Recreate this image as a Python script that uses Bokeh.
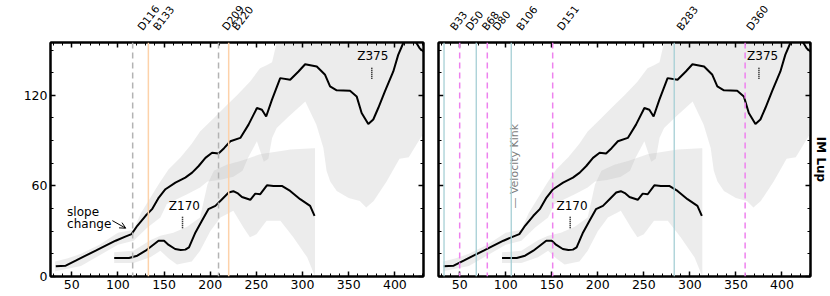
import math
from bokeh.plotting import figure
from bokeh.models import (Range1d, LinearAxis, SingleIntervalTicker,
                          Span, Arrow, OpenHead, CustomLabelingPolicy)
from bokeh.layouts import row, column
from bokeh.embed import file_html
from bokeh.resources import INLINE
from bokeh.core.properties import value

# ---------------- data ----------------
upper_x = [32.7, 43.5, 54.3, 65, 76, 86.7, 97.5, 108, 114.8, 121, 130, 137, 144.3, 151.5,
           162.3, 173, 180.4, 187.5, 194.8, 202, 209, 215, 221.8, 232.6, 241.5, 250.6, 256,
           260.6, 266.8, 275.8, 286.6, 295.6, 302.8, 315.4, 324.4, 329.8, 337, 351.4, 358.6,
           364, 371.2, 376.6, 382, 389.2, 398.3, 403.6, 409, 414, 419, 423, 427, 431]
upper_y = [6.8, 7.2, 10.5, 13.8, 17.1, 20.4, 23.7, 26.4, 28.1, 33.6, 40.2, 44.6, 52.3, 57.8,
           62.2, 65.5, 68.8, 73.2, 78.6, 82, 81.5, 85, 89.6, 91.8, 100.6, 111.6, 110.5,
           106, 117, 131.4, 130.3, 135.8, 140.6, 139.1, 133.6, 125.9, 123.3, 123, 119.3,
           108.3, 101, 104, 111.6, 122.6, 135.8, 146.8, 154.5, 160, 158, 155, 151, 149]

lower_x = [96, 105, 112, 121, 130, 137, 144, 150, 155, 162, 168, 173, 177, 184, 191, 198,
           205.6, 212.8, 220, 225, 230, 234.4, 243.4, 248.8, 254.2, 261.4, 268.5, 277.6,
           286.6, 297.4, 308.2, 313]
lower_y = [12.3, 12.3, 12.3, 13.8, 17.1, 20.4, 23.7, 23.7, 20.9, 18.2, 17.5, 17.8, 19.3,
           29.2, 36.9, 44.6, 46.8, 51.2, 55.6, 56.5, 55, 52.7, 50.8, 54.9, 54.5, 60.4, 60,
           60, 56.7, 51.2, 46.8, 40.2]

# uncertainty band of the upper profile
bandA_top_x = [32, 45, 60, 80, 100, 117, 125, 135, 145, 155, 168, 180, 189, 204, 217, 229,
               243, 254, 261, 267, 272, 280, 432]
bandA_top_y = [10, 12, 15, 21, 29, 31, 42, 52, 62, 71, 79, 88, 96, 105, 113, 120,
               129, 138, 140, 142, 155, 170, 170]
bandA_bot_x = [32, 60, 100, 117, 132, 146, 153, 175, 189, 197, 210, 225, 235, 241, 250.6,
               258, 263, 267, 272, 285, 303, 315, 322.6, 326, 330, 337, 350, 362, 369, 377,
               391, 405, 415, 432]
bandA_bot_y = [3.5, 7, 21, 23.7, 32.5, 39, 48, 54.5, 59, 63, 64, 66, 70, 78.6, 89.6,
               76, 78, 91.8, 98.4, 106, 116, 100.6, 85.2, 70, 63, 56.7, 52, 50, 45.7, 50,
               63, 78, 79, 96]

# uncertainty band of the lower profile
bandB_top_x = [96, 117, 135, 146, 160, 175, 189, 193, 197, 204, 218, 233, 254, 287, 312, 313.5]
bandB_top_y = [16, 17, 24, 27, 29, 33, 39, 50, 61, 70, 74, 76.5, 81, 84.2, 85, 85]
bandB_bot_x = [96, 117, 135, 146, 155, 164, 180, 189, 200, 211, 225, 236, 243, 250, 261,
               276, 290, 305, 313.5]
bandB_bot_y = [9, 9, 12.7, 17, 12, 8, 10, 17, 30, 39, 43.5, 32.5, 26, 28, 37,
               37, 26, 12.7, 0]

left_D = [116, 209]
left_B = [133, 220]
left_marks = [116, 133, 209, 220]
left_mark_labels = ["D116", "B133", "D209", "B220"]

right_D = [50, 80, 151, 360]
right_B = [33, 68, 106, 283]
right_marks = [33, 50, 68, 80, 106, 151, 283, 360]
right_mark_labels = ["B33", "D50", "B68", "D80", "B106", "D151", "B283", "D360"]

FONT = "DejaVu Sans"
STRIP_H = 40
MAIN_H = 256
XMIN, XMAX = 27, 431
YMAX = 155
LABEL_ANGLE = math.radians(52)


def band_poly(tx, ty, bx, by):
    return list(tx) + list(reversed(bx)), list(ty) + list(reversed(by))


def style_axis(ax, labels=True):
    ax.major_tick_in = 5
    ax.major_tick_out = 0
    ax.minor_tick_in = 3
    ax.minor_tick_out = 0
    ax.major_tick_line_width = 1.5
    ax.minor_tick_line_width = 1
    ax.axis_line_width = 2
    ax.axis_line_color = "black"
    ax.major_label_text_font = FONT
    ax.major_label_text_color = "black"
    if labels:
        ax.major_label_text_font_size = "12.5px"
        ax.major_label_standoff = 3
    else:
        ax.major_label_text_font_size = "0px"
        ax.major_label_standoff = 0
        ax.major_label_policy = CustomLabelingPolicy(code="")


def make_panel(width, bl, br, show_ylabels, marks, mark_labels):
    p = figure(width=width, height=MAIN_H, x_range=Range1d(XMIN, XMAX),
               y_range=Range1d(0, YMAX),
               output_backend="svg", toolbar_location=None,
               x_axis_type=None, y_axis_type=None,
               min_border_left=bl, min_border_right=br,
               min_border_top=2, min_border_bottom=20)
    p.outline_line_color = "black"
    p.outline_line_width = 2
    p.background_fill_color = "white"
    p.border_fill_color = "white"

    xb = LinearAxis(ticker=SingleIntervalTicker(interval=50, num_minor_ticks=5))
    style_axis(xb)
    p.add_layout(xb, "below")
    xt = LinearAxis(ticker=SingleIntervalTicker(interval=50, num_minor_ticks=5))
    style_axis(xt, labels=False)
    p.add_layout(xt, "above")

    yl = LinearAxis(ticker=SingleIntervalTicker(interval=60, num_minor_ticks=4))
    style_axis(yl, labels=show_ylabels)
    p.add_layout(yl, "left")
    yr = LinearAxis(ticker=SingleIntervalTicker(interval=60, num_minor_ticks=4))
    style_axis(yr, labels=False)
    p.add_layout(yr, "right")

    # bands
    ax_, ay_ = band_poly(bandA_top_x, bandA_top_y, bandA_bot_x, bandA_bot_y)
    p.patch(ax_, ay_, fill_color="#b4b4b4", fill_alpha=0.25, line_color=None)
    bx_, by_ = band_poly(bandB_top_x, bandB_top_y, bandB_bot_x, bandB_bot_y)
    p.patch(bx_, by_, fill_color="#b4b4b4", fill_alpha=0.25, line_color=None)

    # strip above the frame carrying the rotated marker-line labels;
    # its frame starts 6 px further left, with the x range extended to keep the same scale
    frame_w = width - bl - br
    pad = 6
    s = figure(width=width, height=STRIP_H,
               x_range=Range1d(XMIN - pad * (XMAX - XMIN) / frame_w, XMAX),
               y_range=Range1d(0, STRIP_H),
               output_backend="svg", toolbar_location=None,
               x_axis_type=None, y_axis_type=None,
               min_border_left=bl - pad, min_border_right=br,
               min_border_top=0, min_border_bottom=0)
    s.outline_line_color = None
    s.background_fill_color = "white"
    s.border_fill_color = "white"
    s.text(x=marks, y=[8] * len(marks), text=mark_labels, angle=LABEL_ANGLE,
           x_offset=7, text_align="left", text_baseline="bottom", text_font=value(FONT),
           text_font_size="10.5px", text_color="black")
    return p, s, yr


def add_curves(p):
    p.line(upper_x, upper_y, line_color="black", line_width=2)
    p.line(lower_x, lower_y, line_color="black", line_width=2)


def add_z_marks(p, zx):
    p.segment(x0=[375, 170], y0=[131, 32], x1=[375, 170], y1=[139, 40],
              line_color="black", line_width=1.5, line_dash="1 1")
    p.text(x=[zx, 172], y=[141.5, 42], text=["Z375", "Z170"], text_align="center",
           text_baseline="bottom", text_font=value(FONT), text_font_size="12px",
           text_color="black")


# ---------------- left panel ----------------
p1, s1, _ = make_panel(430, 50, 7, True, left_marks, left_mark_labels)
for d in left_D:
    p1.add_layout(Span(location=d, dimension="height", line_color="#b3b3b3",
                       line_width=1.5, line_dash="6 4"))
for b in left_B:
    p1.add_layout(Span(location=b, dimension="height", line_color="#fdd2aa", line_width=1.5))
add_curves(p1)
add_z_marks(p1, 376)
p1.text(x=[45, 45], y=[42.4, 34.8], text=["slope", "change"], text_align="left",
        text_baseline="middle", text_font=value(FONT), text_font_size="12px",
        text_color="black")
p1.add_layout(Arrow(end=OpenHead(size=6, line_width=1, line_color="black"),
                    x_start=94, y_start=37, x_end=108.5, y_end=32,
                    line_width=1, line_color="black"))

# ---------------- right panel ----------------
p2, s2, yr2 = make_panel(400, 8, 18, False, right_marks, right_mark_labels)
for d in right_D:
    p2.add_layout(Span(location=d, dimension="height", line_color="violet",
                       line_width=1.5, line_dash="6 4"))
for b in right_B:
    p2.add_layout(Span(location=b, dimension="height", line_color="#a6cfd5", line_width=1.3))
add_curves(p2)
add_z_marks(p2, 379)
p2.text(x=[110], y=[45], text=["\u2014 Velocity Kink"], angle=math.pi / 2,
        text_align="left", text_baseline="middle", text_font=value(FONT),
        text_font_size="11px", text_color="#808080")
yr2.axis_label = "IM Lup"
yr2.axis_label_standoff = 3
yr2.axis_label_text_font = FONT
yr2.axis_label_text_font_size = "12px"
yr2.axis_label_text_font_style = "bold"
yr2.axis_label_text_color = "black"

layout = row(column(s1, p1), column(s2, p2))
open("out.html", "w").write(file_html(layout, INLINE))
